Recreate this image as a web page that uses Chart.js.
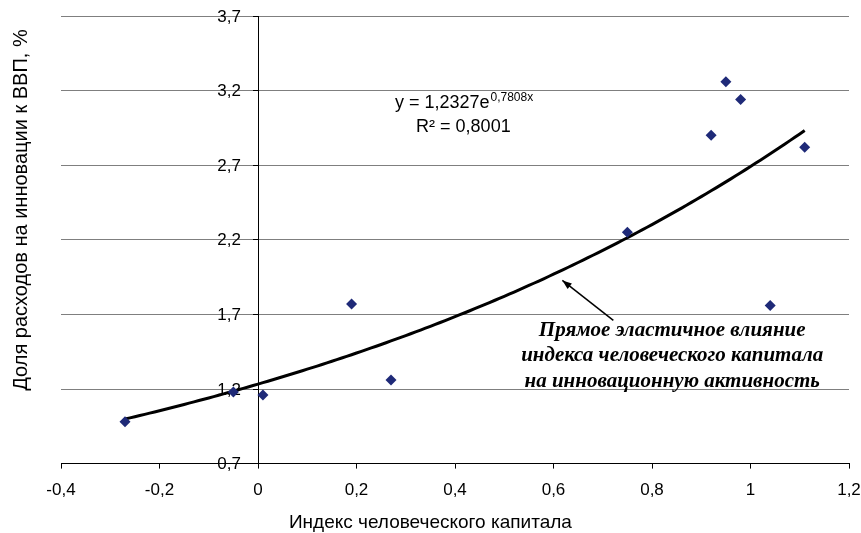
<!DOCTYPE html>
<html><head><meta charset="utf-8">
<script src="https://cdn.jsdelivr.net/npm/chart.js@4"></script>
<style>html,body{margin:0;padding:0;background:#fff}</style>
</head><body>
<canvas id="c" width="861" height="533"></canvas>
<script>
// ---- data ----
const xValues = [-0.27, -0.05, 0.01, 0.19, 0.27, 0.75, 0.92, 0.95, 0.98, 1.04, 1.11];
const yValues = [0.98, 1.18, 1.16, 1.77, 1.26, 2.25, 2.90, 3.26, 3.14, 1.76, 2.82];
const trendCoefA = 1.2327;
const trendCoefB = 0.7808;
const trendFrom = -0.27;
const trendTo = 1.11;
const xTicks = [-0.4, -0.2, 0, 0.2, 0.4, 0.6, 0.8, 1, 1.2];
const yTicks = [0.7, 1.2, 1.7, 2.2, 2.7, 3.2, 3.7];
const xTitle = 'Индекс человеческого капитала';
const yTitle = 'Доля расходов на инновации к ВВП, %';
const eqMain = 'y = 1,2327e';
const eqExp = '0,7808x';
const r2Text = 'R² = 0,8001';
const noteLines = ['Прямое эластичное влияние', 'индекса человеческого капитала', 'на инновационную активность'];

const fmt = v => (Math.round(v * 10) / 10).toString().replace('.', ',');

const scatterData = xValues.map((x, i) => ({x, y: yValues[i]}));
const trendData = [];
for (let k = 0; k <= 138; k++) {
  const x = trendFrom + (trendTo - trendFrom) * k / 138;
  trendData.push({x, y: trendCoefA * Math.exp(trendCoefB * x)});
}

const SANS = '"Liberation Sans", Arial, sans-serif';

const textPlugin = {
  id: 'texts',
  beforeDatasetsDraw(chart) {
    const ctx = chart.ctx, xs = chart.scales.x, ys = chart.scales.y;
    const ax = xs.getPixelForValue(0);
    ctx.save();
    ctx.fillStyle = '#000';
    ctx.font = '17px ' + SANS;
    ctx.textAlign = 'right';
    ctx.textBaseline = 'middle';
    yTicks.forEach(v => ctx.fillText(fmt(v), ax - 17, ys.getPixelForValue(v) + 1));
    ctx.restore();
  },
  afterDraw(chart) {
    const ctx = chart.ctx, xs = chart.scales.x, ys = chart.scales.y;
    const X = v => xs.getPixelForValue(v), Y = v => ys.getPixelForValue(v);
    const ca = chart.chartArea;
    ctx.save();
    // y title
    ctx.fillStyle = '#000';
    ctx.font = '20px ' + SANS;
    ctx.textAlign = 'center';
    ctx.textBaseline = 'middle';
    ctx.translate(21, 210);
    ctx.rotate(-Math.PI / 2);
    ctx.fillText(yTitle, 0, 0);
    ctx.restore();

    ctx.save();
    ctx.fillStyle = '#000';
    // x title
    ctx.font = '19px ' + SANS;
    ctx.textAlign = 'center';
    ctx.textBaseline = 'middle';
    ctx.fillText(xTitle, X(0.35), ca.bottom + 59);

    ctx.textBaseline = 'alphabetic';
    ctx.textAlign = 'left';
    ctx.font = '18px ' + SANS;
    const ex = X(0.278), ey = Y(3.085);
    ctx.fillText(eqMain, ex, ey);
    const w = ctx.measureText(eqMain).width;
    ctx.font = '12px ' + SANS;
    ctx.fillText(eqExp, ex + w + 1, ey - 7);
    ctx.font = '18px ' + SANS;
    ctx.fillText(r2Text, X(0.321), Y(2.925));

    // annotation
    ctx.font = 'italic bold 21px "Liberation Serif", "Times New Roman", serif';
    ctx.textAlign = 'center';
    ctx.textBaseline = 'middle';
    const cx = X(0.841);
    [1.593, 1.425, 1.250].forEach((v, i) => ctx.fillText(noteLines[i], cx, Y(v)));

    // arrow
    const x1 = X(0.7215), y1 = Y(1.66), x2 = X(0.618), y2 = Y(1.928);
    ctx.strokeStyle = '#000';
    ctx.lineWidth = 1.5;
    ctx.beginPath(); ctx.moveTo(x1, y1); ctx.lineTo(x2, y2); ctx.stroke();
    const ang = Math.atan2(y2 - y1, x2 - x1);
    ctx.beginPath();
    ctx.moveTo(x2, y2);
    ctx.lineTo(x2 - 10 * Math.cos(ang - 0.35), y2 - 10 * Math.sin(ang - 0.35));
    ctx.lineTo(x2 - 10 * Math.cos(ang + 0.35), y2 - 10 * Math.sin(ang + 0.35));
    ctx.closePath();
    ctx.fillStyle = '#000';
    ctx.fill();
    ctx.restore();
  }
};

new Chart(document.getElementById('c'), {
  type: 'scatter',
  data: {
    datasets: [
      {
        data: scatterData,
        pointStyle: 'rectRot',
        pointRadius: 5.5,
        pointHoverRadius: 5.5,
        backgroundColor: '#1f2a78',
        borderColor: '#1f2a78',
        borderWidth: 0,
        order: 1
      },
      {
        type: 'line',
        data: trendData,
        borderColor: '#000',
        borderWidth: 3,
        pointRadius: 0,
        fill: false,
        tension: 0,
        order: 2
      }
    ]
  },
  options: {
    responsive: false,
    animation: false,
    devicePixelRatio: 1,
    layout: {padding: {left: 61, right: 12, top: 16, bottom: 20}},
    plugins: {legend: {display: false}, tooltip: {enabled: false}},
    scales: {
      x: {
        type: 'linear',
        position: 'bottom',
        min: -0.4, max: 1.2,
        afterBuildTicks: s => { s.ticks = xTicks.map(v => ({value: v})); },
        afterFit: s => { s.paddingLeft = 0; s.paddingRight = 0; },
        ticks: {
          color: '#000',
          font: {family: SANS, size: 17},
          padding: 12,
          callback: v => fmt(v),
          maxRotation: 0, autoSkip: false
        },
        grid: {drawOnChartArea: false, drawTicks: true, tickLength: 5, tickColor: '#000'},
        border: {display: true, color: '#000', width: 1},
        title: {display: false}
      },
      y: {
        type: 'linear',
        position: {x: 0},
        min: 0.7, max: 3.7,
        afterBuildTicks: s => { s.ticks = yTicks.map(v => ({value: v})); },
        afterFit: s => { s.paddingTop = 0; s.paddingBottom = 0; },
        ticks: {display: false},
        grid: {color: '#7f7f7f', lineWidth: 1, drawTicks: true, tickLength: 5, tickColor: '#000'},
        border: {display: true, color: '#000', width: 1}
      }
    }
  },
  plugins: [textPlugin]
});
</script>
</body></html>
